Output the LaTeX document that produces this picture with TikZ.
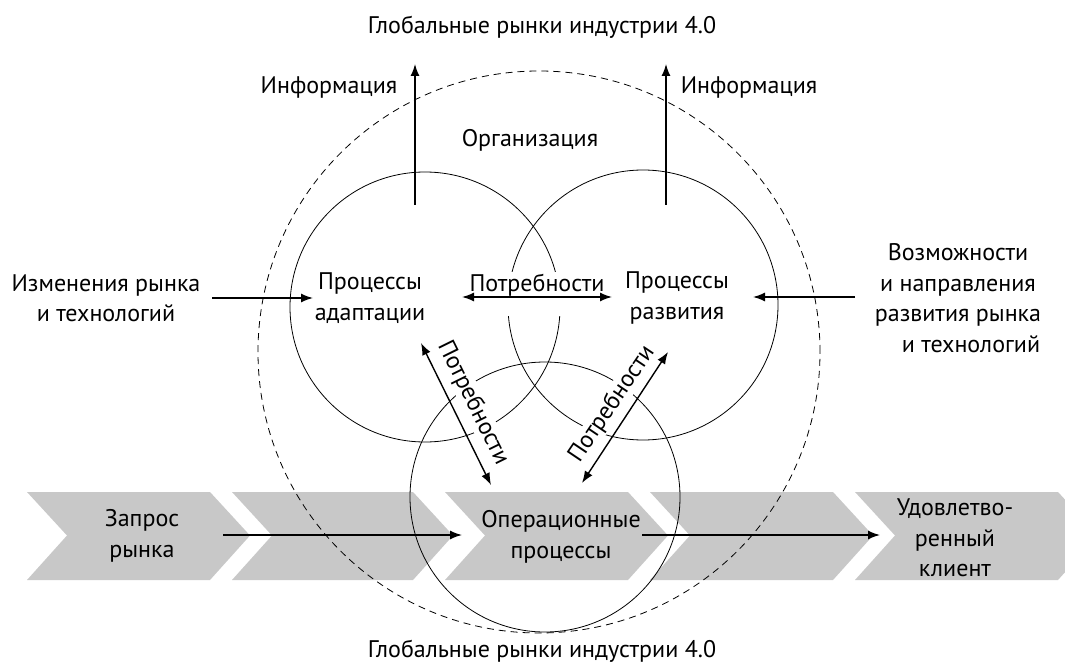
\documentclass[tikz,border=0pt]{standalone}
\usepackage{fontspec}
\setmainfont{PT Sans}
\usetikzlibrary{arrows.meta}
\definecolor{chev}{RGB}{200,200,200}
\begin{document}
\begin{tikzpicture}[x=1pt,y=-1pt,
  lbl/.style={font=\fontsize{24}{30.5}\selectfont, align=center, inner sep=1pt},
  wlbl/.style={lbl, fill=white},
  ring/.style={line width=0.8pt},
  orgring/.style={line width=0.8pt, dash pattern=on 7pt off 5pt},
  flow/.style={line width=1.4pt, -{Latex[length=12pt,width=9pt]}},
  flowboth/.style={line width=1.4pt, {Latex[length=12pt,width=9pt]}-{Latex[length=12pt,width=9pt]}}]
\useasboundingbox (0,0) rectangle (1065,668);
\fill[white] (0,0) rectangle (1065,668);

% value chain: chevron band
\begin{scope}
  \clip (0,0) rectangle (1065,668);
  \foreach \L/\w in {27/183, 232/181, 445/183, 650/183, 855/203}
    \fill[chev] (\L,492) -- ++(\w,0) -- ++(40,43.5) -- ++(-40,44.5)
      -- ++(-\w,0) -- ++(40,-44.5) -- cycle;
\end{scope}

% organisation boundary and the three process circles
\draw[orgring] (539,352) circle[radius=281pt];
\draw[ring] (425,307) circle[radius=135pt];
\draw[ring] (643,305) circle[radius=135pt];
\draw[ring] (545,497) circle[radius=135pt];

% labels
\node[lbl] (gtop) at (542,27) {Глобальные рынки индустрии 4.0};
\node[lbl] (gbot) at (542,651) {Глобальные рынки индустрии 4.0};
\node[lbl] (infoL) at (329,88) {Информация};
\node[lbl] (infoR) at (749,88) {Информация};
\node[lbl] (org) at (530,140) {Организация};
\node[wlbl] (adapt) at (370,298) {Процессы\\адаптации};
\node[wlbl] (razv) at (677,298) {Процессы\\развития};
\node[lbl, fill=white, anchor=base, text height=18pt, text depth=24pt] (need) at (537,291) {Потребности};
\node[lbl] (izm) at (106,298) {Изменения рынка\\и технологий};
\node[lbl] (vozm) at (958,298) {Возможности\\и направления\\развития рынка\\\hspace*{26pt}и технологий};
\node[wlbl, rotate=-63.8] (needL) at (473,403) {Потребности};
\node[wlbl, rotate=56] (needR) at (612,404) {Потребности};
\node[lbl] (zapros) at (142,536) {Запрос\\рынка};
\node[lbl] (oper) at (561,537) {Операционные\\процессы};
\node[lbl] (klient) at (955,538) {Удовлетво-\\ренный\\клиент};

% arrow end points
\coordinate (iLb) at (415,205);  \coordinate (iLt) at (415,64);
\coordinate (iRb) at (666,205);  \coordinate (iRt) at (666,64);
\coordinate (izmS) at (212,298); \coordinate (izmE) at (313,298);
\coordinate (vozS) at (855,297); \coordinate (vozE) at (753,297);
\coordinate (nL) at (462,297);   \coordinate (nR) at (612,297);
\coordinate (dLa) at (421,343);  \coordinate (dLb) at (491,485);
\coordinate (dRa) at (582,483);  \coordinate (dRb) at (668,352);
\coordinate (c1s) at (223,535);  \coordinate (c1e) at (462,535);
\coordinate (c2s) at (642,535);  \coordinate (c2e) at (880,535);

% flows
\draw[flow] (iLb) -- (iLt);
\draw[flow] (iRb) -- (iRt);
\draw[flow] (izmS) -- (izmE);
\draw[flow] (vozS) -- (vozE);
\draw[flowboth] (nL) -- (nR);
\draw[flowboth] (dLa) -- (dLb);
\draw[flowboth] (dRa) -- (dRb);
\draw[flow] (c1s) -- (c1e);
\draw[flow] (c2s) -- (c2e);
\end{tikzpicture}
\end{document}
